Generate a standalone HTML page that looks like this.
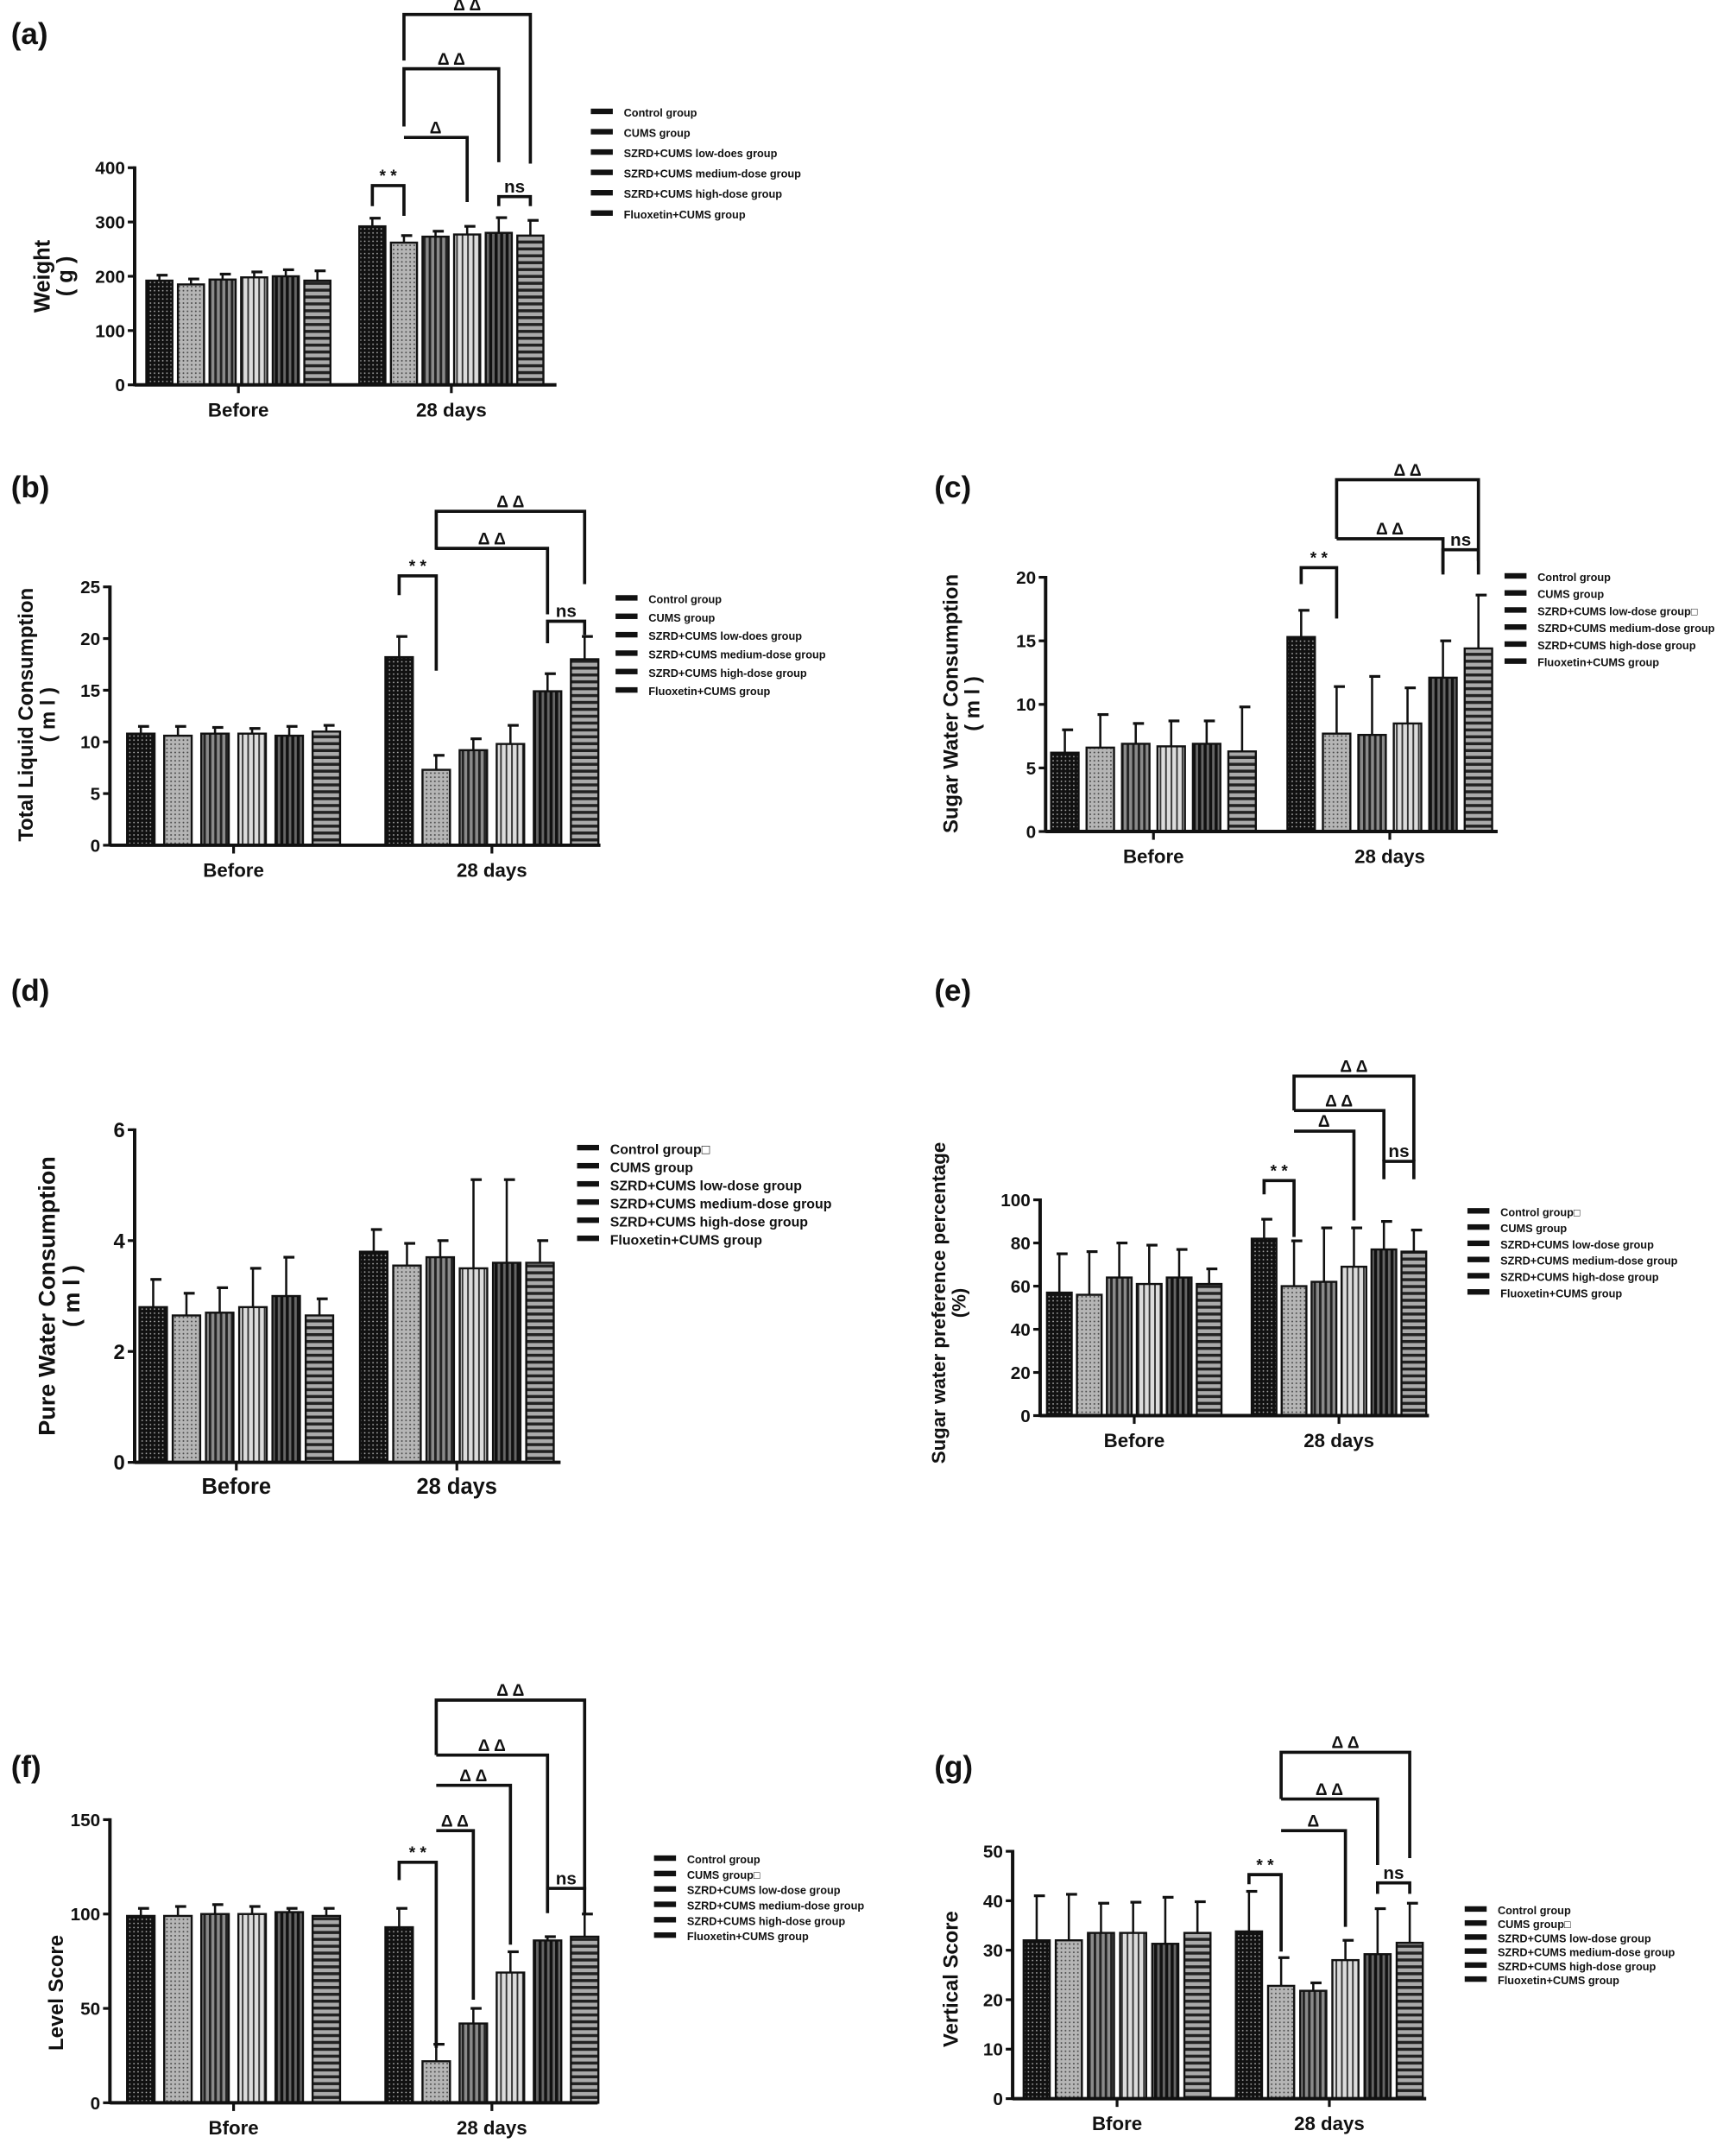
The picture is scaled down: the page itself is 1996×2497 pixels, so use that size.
<!DOCTYPE html>
<html><head><meta charset="utf-8"><style>
html,body{margin:0;padding:0;background:#fff;}
svg{display:block;}
text{font-family:"Liberation Sans","Noto Sans CJK SC",sans-serif;font-weight:bold;fill:#111;}
</style></head><body>
<svg id="fig" width="1996" height="2497" viewBox="0 0 1254 1568.7" xmlns="http://www.w3.org/2000/svg">
<defs>
<pattern id="pCtrl" width="3" height="3" patternUnits="userSpaceOnUse"><rect width="3" height="3" fill="#111"/><circle cx="1.5" cy="1.5" r="0.55" fill="#bbb"/></pattern>
<pattern id="pCums" width="3" height="3" patternUnits="userSpaceOnUse"><rect width="3" height="3" fill="#b5b5b5"/><circle cx="1.5" cy="1.5" r="0.6" fill="#444"/></pattern>
<pattern id="pLow" width="4" height="4" patternUnits="userSpaceOnUse"><rect width="4" height="4" fill="#8a8a8a"/><rect width="1.8" height="4" fill="#222"/></pattern>
<pattern id="pMed" width="4" height="4" patternUnits="userSpaceOnUse"><rect width="4" height="4" fill="#dcdcdc"/><rect width="1.2" height="4" fill="#333"/></pattern>
<pattern id="pHigh" width="4" height="4" patternUnits="userSpaceOnUse"><rect width="4" height="4" fill="#666"/><rect width="2.2" height="4" fill="#111"/></pattern>
<pattern id="pFlu" width="4" height="5" patternUnits="userSpaceOnUse"><rect width="4" height="5" fill="#aaa"/><rect width="4" height="2.2" fill="#222"/></pattern>
</defs>
</svg>
<script>
const fills = ["url(#pCtrl)","url(#pCums)","url(#pLow)","url(#pMed)","url(#pHigh)","url(#pFlu)"];
const categoriesA = ["Before","28 days"];
const categoriesF = ["Bfore","28 days"];
// (a) Weight
const aBefore = [192,185,194,198,200,192];
const aBeforeErr = [10,10,10,10,12,18];
const aAfter = [292,262,273,277,280,275];
const aAfterErr = [15,13,10,15,28,28];
const aTicks = [0,100,200,300,400];
// (b) Total liquid
const bBefore = [10.8,10.6,10.8,10.8,10.6,11.0];
const bBeforeErr = [0.7,0.9,0.6,0.5,0.9,0.6];
const bAfter = [18.2,7.3,9.2,9.8,14.9,18.0];
const bAfterErr = [2.0,1.4,1.1,1.8,1.7,2.2];
const bTicks = [0,5,10,15,20,25];
// (c) Sugar water
const cBefore = [6.2,6.6,6.9,6.7,6.9,6.3];
const cBeforeErr = [1.8,2.6,1.6,2.0,1.8,3.5];
const cAfter = [15.3,7.7,7.6,8.5,12.1,14.4];
const cAfterErr = [2.1,3.7,4.6,2.8,2.9,4.2];
const cTicks = [0,5,10,15,20];
// (d) Pure water
const dBefore = [2.8,2.65,2.7,2.8,3.0,2.65];
const dBeforeErr = [0.5,0.4,0.45,0.7,0.7,0.3];
const dAfter = [3.8,3.55,3.7,3.5,3.6,3.6];
const dAfterErr = [0.4,0.4,0.3,1.6,1.5,0.4];
const dTicks = [0,2,4,6];
// (e) Sugar preference
const eBefore = [57,56,64,61,64,61];
const eBeforeErr = [18,20,16,18,13,7];
const eAfter = [82,60,62,69,77,76];
const eAfterErr = [9,21,25,18,13,10];
const eTicks = [0,20,40,60,80,100];
// (f) Level score
const fBefore = [99,99,100,100,101,99];
const fBeforeErr = [4,5,5,4,2,4];
const fAfter = [93,22,42,69,86,88];
const fAfterErr = [10,9,8,11,2,12];
const fTicks = [0,50,100,150];
// (g) Vertical score
const gBefore = [32,32,33.5,33.5,31.3,33.5];
const gBeforeErr = [9,9.3,6,6.2,9.4,6.3];
const gAfter = [33.8,22.8,21.8,28,29.2,31.5];
const gAfterErr = [8.1,5.7,1.6,4,9.2,8];
const gTicks = [0,10,20,30,40,50];

const legendA = ["Control group","CUMS group","SZRD+CUMS low-does group","SZRD+CUMS medium-dose group","SZRD+CUMS high-dose group","Fluoxetin+CUMS group"];
const legendC = ["Control group","CUMS group","SZRD+CUMS low-dose group\u25A1","SZRD+CUMS medium-dose group","SZRD+CUMS high-dose group","Fluoxetin+CUMS group"];
const legendD = ["Control group\u25A1","CUMS group","SZRD+CUMS low-dose group","SZRD+CUMS medium-dose group","SZRD+CUMS high-dose group","Fluoxetin+CUMS group"];
const legendF = ["Control group","CUMS group\u25A1","SZRD+CUMS low-dose group","SZRD+CUMS medium-dose group","SZRD+CUMS high-dose group","Fluoxetin+CUMS group"];

const panels = [
 {id:"a",tag:"(a)",tx:8,ty:32,before:aBefore,bErr:aBeforeErr,after:aAfter,aErr:aAfterErr,ticks:aTicks,max:400,cats:categoriesA,
  ax:98,xEnd:405,yTop:122,yBot:280,cB:173.5,cA:328.5,pitch:23,bw:19,fs:13,
  ylab:["Weight","( g )"],ylx:36,yly:201,ylfs:16,leg:legendA,lx:430,ly:82,lstep:14.8,lfs:8,
  br:[{i:0,j:1,y:135,dl:150,dr:157,t:"* *"},{i:4,j:5,y:143,dl:150,dr:150,t:"ns"},{i:1,j:3,y:100,dl:null,dr:147,t:"\u0394"},{i:1,j:4,y:50,dl:92,dr:118,t:"\u0394 \u0394"},{i:1,j:5,y:10.5,dl:44,dr:119,t:"\u0394 \u0394"}]},
 {id:"b",tag:"(b)",tx:8,ty:362,before:bBefore,bErr:bBeforeErr,after:bAfter,aErr:bAfterErr,ticks:bTicks,max:25,cats:categoriesA,
  ax:80,xEnd:437,yTop:427,yBot:615,cB:170,cA:358,pitch:27,bw:20,fs:13,
  ylab:["Total Liquid Consumption","( m l )"],ylx:24,yly:520,ylfs:15,leg:legendA,lx:448,ly:436,lstep:13.4,lfs:8,
  br:[{i:0,j:1,y:419,dl:433,dr:488,t:"* *"},{i:4,j:5,y:452,dl:468,dr:462,t:"ns"},{i:1,j:4,y:399,dl:null,dr:447,t:"\u0394 \u0394"},{i:1,j:5,y:372,dl:400,dr:425,t:"\u0394 \u0394"}]},
 {id:"c",tag:"(c)",tx:680,ty:362,before:cBefore,bErr:cBeforeErr,after:cAfter,aErr:cAfterErr,ticks:cTicks,max:20,cats:categoriesA,
  ax:761,xEnd:1090,yTop:420,yBot:605,cB:839.5,cA:1011.5,pitch:25.8,bw:20,fs:13,
  ylab:["Sugar Water Consumption","( m l )"],ylx:697,yly:512,ylfs:15,leg:legendC,lx:1095,ly:420,lstep:12.4,lfs:8,
  br:[{i:0,j:1,y:413,dl:425,dr:450,t:"* *"},{i:4,j:5,y:400,dl:418,dr:418,t:"ns"},{i:1,j:4,y:392,dl:null,dr:416,t:"\u0394 \u0394"},{i:1,j:5,y:349,dl:392,dr:408,t:"\u0394 \u0394"}]},
 {id:"d",tag:"(d)",tx:8,ty:728,before:dBefore,bErr:dBeforeErr,after:dAfter,aErr:dAfterErr,ticks:dTicks,max:6,cats:categoriesA,
  ax:98,xEnd:408,yTop:822,yBot:1064,cB:172,cA:332.5,pitch:24.2,bw:20,fs:15,
  ylab:["Pure Water Consumption","( m l )"],ylx:40,yly:943,ylfs:17,leg:legendD,lx:420,ly:836,lstep:13.2,lfs:10,br:[]},
 {id:"e",tag:"(e)",tx:680,ty:728,before:eBefore,bErr:eBeforeErr,after:eAfter,aErr:eAfterErr,ticks:eTicks,max:100,cats:categoriesA,
  ax:757,xEnd:1040,yTop:873,yBot:1030,cB:825.5,cA:974.5,pitch:21.8,bw:18,fs:13,
  ylab:["Sugar water preference percentage","(%)"],ylx:688,yly:948,ylfs:14,leg:legendD,lx:1068,ly:882,lstep:11.8,lfs:8,
  br:[{i:0,j:1,y:859,dl:869,dr:900,t:"* *"},{i:4,j:5,y:845,dl:858,dr:858,t:"ns"},{i:1,j:3,y:823,dl:null,dr:888,t:"\u0394"},{i:1,j:4,y:808,dl:null,dr:845,t:"\u0394 \u0394"},{i:1,j:5,y:783,dl:808,dr:845,t:"\u0394 \u0394"}]},
 {id:"f",tag:"(f)",tx:8,ty:1293,before:fBefore,bErr:fBeforeErr,after:fAfter,aErr:fAfterErr,ticks:fTicks,max:150,cats:categoriesF,
  ax:80,xEnd:435,yTop:1324,yBot:1530,cB:170,cA:358,pitch:27,bw:20,fs:13,
  ylab:["Level Score"],ylx:46,yly:1450,ylfs:15,leg:legendF,lx:476,ly:1353,lstep:11.2,lfs:8,
  br:[{i:0,j:1,y:1355,dl:1368,dr:1490,t:"* *"},{i:4,j:5,y:1374,dl:1392,dr:1392,t:"ns"},{i:1,j:2,y:1332,dl:null,dr:1455,t:"\u0394 \u0394"},{i:1,j:3,y:1299,dl:null,dr:1415,t:"\u0394 \u0394"},{i:1,j:4,y:1277,dl:null,dr:1375,t:"\u0394 \u0394"},{i:1,j:5,y:1237,dl:1277,dr:1375,t:"\u0394 \u0394"}]},
 {id:"g",tag:"(g)",tx:680,ty:1293,before:gBefore,bErr:gBeforeErr,after:gAfter,aErr:gAfterErr,ticks:gTicks,max:50,cats:categoriesF,
  ax:737,xEnd:1038,yTop:1347,yBot:1527,cB:813,cA:967.5,pitch:23.4,bw:19,fs:13,
  ylab:["Vertical Score"],ylx:697,yly:1440,ylfs:15,leg:legendF,lx:1066,ly:1390,lstep:10.2,lfs:8,
  br:[{i:0,j:1,y:1364,dl:1371,dr:1420,t:"* *"},{i:4,j:5,y:1370,dl:1378,dr:1378,t:"ns"},{i:1,j:3,y:1332,dl:null,dr:1402,t:"\u0394"},{i:1,j:4,y:1309,dl:null,dr:1357,t:"\u0394 \u0394"},{i:1,j:5,y:1275,dl:1309,dr:1352,t:"\u0394 \u0394"}]}
];

const svg = document.getElementById('fig');
const NS = "http://www.w3.org/2000/svg";
function mk(tag, attrs, parent){
  const e = document.createElementNS(NS, tag);
  for (const k in attrs) e.setAttribute(k, attrs[k]);
  (parent||svg).appendChild(e);
  return e;
}

panels.forEach(p => {
  const g = mk('g', {});
  
  
  const yS = v => p.yBot - (v / p.max) * (p.yBot - p.yTop);
  const xS = (grp, k) => (grp === 0 ? p.cB : p.cA) + (k - 2.5) * p.pitch;

  const tl = mk('text', {x:p.tx, y:p.ty, 'font-size':22}, g);
  tl.textContent = p.tag;
  
  

  [[p.before, p.bErr], [p.after, p.aErr]].forEach((s, grp) => {
    s[0].forEach((v, k) => {
      const cx = xS(grp, k), top = yS(v), et = yS(v + s[1][k]);
      const el = mk('line', {x1:cx, x2:cx, y1:top, y2:et, stroke:'#111', 'stroke-width':1.6}, g);
      
      
      const cap = mk('line', {x1:cx-2, x2:cx+6, y1:et, y2:et, stroke:'#111', 'stroke-width':2}, g);
      
      
      const r = mk('rect', {x:cx-p.bw/2, y:top, width:p.bw, height:p.yBot-top, fill:fills[k], stroke:'#111', 'stroke-width':1.5}, g);
      
      
    });
  });

  const ya = mk('line', {x1:p.ax, x2:p.ax, y1:p.yTop-1, y2:p.yBot+1, stroke:'#111', 'stroke-width':2.5}, g);
  
  
  const xa = mk('line', {x1:p.ax, x2:p.xEnd, y1:p.yBot, y2:p.yBot, stroke:'#111', 'stroke-width':2.5}, g);
  
  
  p.ticks.forEach(t => {
    const y = yS(t);
    mk('line', {x1:p.ax-5, x2:p.ax, y1:y, y2:y, stroke:'#111', 'stroke-width':2}, g);
    const tx = mk('text', {x:p.ax-7, y:y+p.fs*0.36, 'font-size':p.fs, 'text-anchor':'end'}, g);
    tx.textContent = t;
    
    
  });
  [p.cB, p.cA].forEach((c, i) => {
    mk('line', {x1:c, x2:c, y1:p.yBot, y2:p.yBot+6, stroke:'#111', 'stroke-width':2}, g);
    const tx = mk('text', {x:c, y:p.yBot+23, 'font-size':p.fs+1, 'text-anchor':'middle'}, g);
    tx.textContent = p.cats[i];
    
    
  });

  const lg = mk('text', {transform:`translate(${p.ylx},${p.yly}) rotate(-90)`, 'font-size':p.ylfs, 'text-anchor':'middle'}, g);
  
  
  p.ylab.forEach((s, i) => {
    const ts = mk('tspan', {x:0, dy: i ? p.ylfs*1.05 : 0}, lg);
    ts.textContent = s;
  });

  p.leg.forEach((s, i) => {
    const y = p.ly + i * p.lstep;
    const sw = mk('rect', {x:p.lx, y:y-3, width:16, height:4, fill:'#111'}, g);
    
    
    const t = mk('text', {x:p.lx+24, y:y+p.lfs*0.35, 'font-size':p.lfs}, g);
    t.textContent = s;
    
    
  });

  p.br.forEach(b => {
    const x1 = xS(1, b.i), x2 = xS(1, b.j);
    let d = `M${x1},${b.dl === null ? b.y : b.dl} L${x1},${b.y} L${x2},${b.y} L${x2},${b.dr}`;
    const pa = mk('path', {d:d, fill:'none', stroke:'#111', 'stroke-width':2.3}, g);
    
    
    const t = mk('text', {x:(x1+x2)/2, y:b.y-3, 'font-size':b.t === 'ns' ? 13 : 12, 'text-anchor':'middle', 'font-weight':'normal'}, g);
    t.textContent = b.t;
    
    
  });
});
</script>
</body></html>
